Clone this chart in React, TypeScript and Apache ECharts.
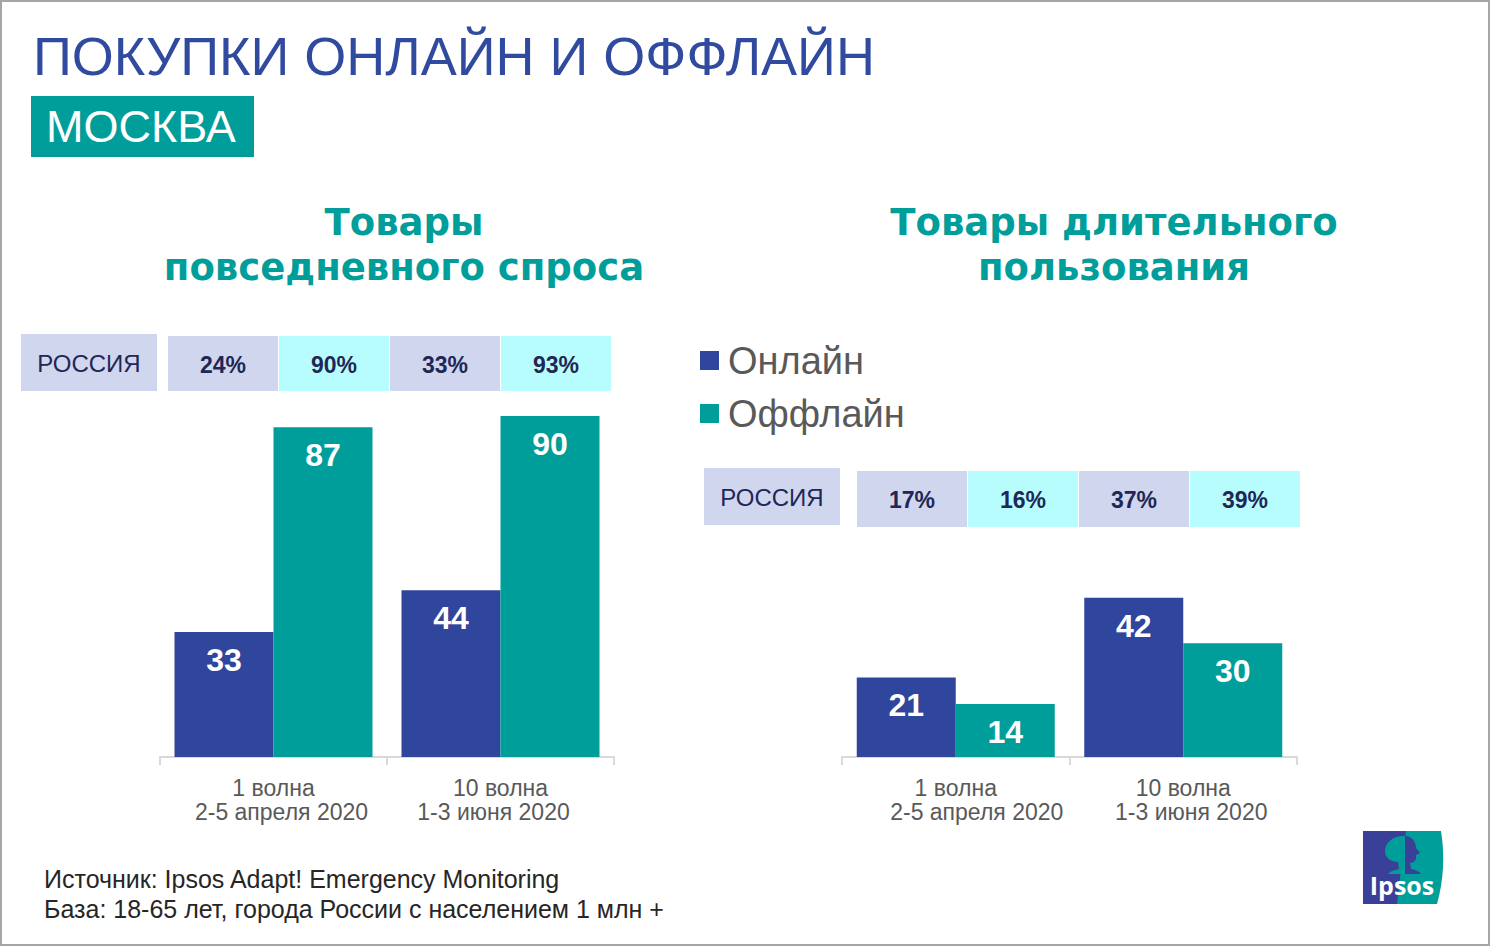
import React, { useEffect, useRef } from "react";
import * as echarts from "echarts";

const categories = ["1 волна\n2-5 апреля 2020", "10 волна\n1-3 июня 2020"];
const seriesNames = ["Онлайн", "Оффлайн"];
const dailyOnline = [33, 44];
const dailyOffline = [87, 90];
const durableOnline = [21, 42];
const durableOffline = [14, 30];
const russiaDaily = ["24%", "90%", "33%", "93%"];
const russiaDurable = ["17%", "16%", "37%", "39%"];

const BLUE = "#30459c";
const TEAL = "#009e9a";
const LAV = "#cfd6ee";
const CYAN = "#b8fdfd";
const NAVY = "#1f2756";
const FONT = '"Liberation Sans", Arial, sans-serif';

echarts.graphic.registerShape(
  "ipsosTeal",
  echarts.graphic.extendPath(
    "M1406 831 L1441 831 Q1447 868 1437 904 L1397 904 Q1401 867 1406 831 Z",
    {}
  )
);
echarts.graphic.registerShape(
  "ipsosFace",
  echarts.graphic.extendPath(
    "M1405 836 C1412 836 1416 842 1416 848 L1420 853 L1416 855 C1417 860 1414 863 1410 863 L1411 869 C1416 870 1420 872 1421 874 L1405 874 Z",
    {}
  )
);
echarts.graphic.registerShape(
  "ipsosTree",
  echarts.graphic.extendPath(
    "M1405 836 C1396 835 1385 841 1385 851 C1385 858 1391 862 1398 862 L1399 869 C1394 870 1389 872 1388 874 L1405 874 Z",
    {}
  )
);

function table(x0: number, boxX: number, y: number, h: number, boxY: number, values: string[]) {
  const els: any[] = [];
  els.push({
    type: "rect",
    shape: { x: boxX, y: boxY, width: 136, height: 57 },
    style: { fill: LAV },
  });
  els.push({
    type: "text",
    x: boxX + 68,
    y: boxY + 29,
    style: {
      text: "РОССИЯ",
      fill: NAVY,
      fontSize: 24,
      fontFamily: FONT,
      align: "center",
      verticalAlign: "middle",
    },
  });
  values.forEach((v, i) => {
    const x = x0 + i * 111;
    els.push({
      type: "rect",
      shape: { x, y, width: 110, height: h },
      style: { fill: i % 2 === 0 ? LAV : CYAN },
    });
    els.push({
      type: "text",
      x: x + 55,
      y: y + h / 2 + 1,
      style: {
        text: v,
        fill: NAVY,
        fontSize: 23,
        fontWeight: "bold",
        fontFamily: FONT,
        align: "center",
        verticalAlign: "middle",
      },
    });
  });
  return els;
}

// horizontal shift (px) of the second label line, per category
function makeLabel(shifts: number[]) {
  const rich: any = {
    a: { color: "#595959", fontSize: 23, lineHeight: 24, fontFamily: FONT },
  };
  shifts.forEach((s, i) => {
    rich["b" + i] = {
      color: "#595959",
      fontSize: 23,
      lineHeight: 24,
      fontFamily: FONT,
      padding: s >= 0 ? [0, 0, 0, 2 * s] : [0, -2 * s, 0, 0],
    };
  });
  return {
    interval: 0,
    hideOverlap: false,
    color: "#595959",
    fontSize: 23,
    lineHeight: 24,
    margin: 19,
    fontFamily: FONT,
    rich,
    formatter: (value: string, index: number) => {
      const [l1, l2] = value.split("\n");
      return "{a|" + l1 + "}\n{b" + index + "|" + l2 + "}";
    },
  };
}

export default function App() {
  const ref = useRef<HTMLDivElement>(null);
  useEffect(() => {
    document.body.style.margin = "0";
    document.body.style.overflow = "hidden";
    const chart = echarts.init(ref.current!, null, { renderer: "svg" });
    const barLabel = {
      show: true,
      position: "insideTop",
      distance: 12,
      color: "#ffffff",
      fontSize: 32,
      fontWeight: "bold",
      fontFamily: FONT,
    };
    const xAxisCommon = {
      type: "category",
      data: categories,
      axisLine: { lineStyle: { color: "#d9d9d9", width: 2 } },
      axisTick: { show: true, interval: 0, length: 8, lineStyle: { color: "#d9d9d9", width: 2 } },
    };
    const yAxisCommon = { type: "value", min: 0, max: 100, show: false };
    const barCommon = { type: "bar", barWidth: 99, barGap: "0%" };
    chart.setOption({
      animation: false,
      backgroundColor: "#ffffff",
      grid: [
        { left: 160, top: 378, width: 454, height: 379 },
        { left: 842, top: 378, width: 455, height: 379 },
      ],
      xAxis: [
        { ...xAxisCommon, gridIndex: 0, axisLabel: makeLabel([8, -7]) },
        { ...xAxisCommon, gridIndex: 1, axisLabel: makeLabel([21, 8]) },
      ],
      yAxis: [
        { ...yAxisCommon, gridIndex: 0 },
        { ...yAxisCommon, gridIndex: 1 },
      ],
      legend: {
        data: seriesNames,
        orient: "vertical",
        left: 695,
        top: 335,
        icon: "rect",
        itemWidth: 19,
        itemHeight: 19,
        itemGap: 12,
        selectedMode: false,
        textStyle: {
          color: "#595959",
          fontSize: 38,
          lineHeight: 41,
          fontFamily: FONT,
          padding: [0, 0, 0, 4],
        },
      },
      series: [
        { ...barCommon, name: seriesNames[0], xAxisIndex: 0, yAxisIndex: 0, data: dailyOnline, itemStyle: { color: BLUE }, label: barLabel },
        { ...barCommon, name: seriesNames[1], xAxisIndex: 0, yAxisIndex: 0, data: dailyOffline, itemStyle: { color: TEAL }, label: barLabel },
        { ...barCommon, name: seriesNames[0], xAxisIndex: 1, yAxisIndex: 1, data: durableOnline, itemStyle: { color: BLUE }, label: barLabel },
        { ...barCommon, name: seriesNames[1], xAxisIndex: 1, yAxisIndex: 1, data: durableOffline, itemStyle: { color: TEAL }, label: barLabel },
      ],
      graphic: [
        {
          type: "rect",
          shape: { x: 1, y: 1, width: 1488, height: 944 },
          style: { fill: "none", stroke: "#a6a6a6", lineWidth: 2 },
          silent: true,
        },
        {
          type: "text",
          x: 33,
          y: 56,
          style: {
            text: "ПОКУПКИ ОНЛАЙН И ОФФЛАЙН",
            fill: "#2f4a9f",
            fontSize: 54,
            fontFamily: FONT,
            align: "left",
            verticalAlign: "middle",
          },
        },
        {
          type: "rect",
          shape: { x: 31, y: 96, width: 223, height: 61 },
          style: { fill: TEAL },
        },
        {
          type: "text",
          x: 46,
          y: 126,
          style: {
            text: "МОСКВА",
            fill: "#ffffff",
            fontSize: 45,
            fontFamily: FONT,
            align: "left",
            verticalAlign: "middle",
          },
        },
        {
          type: "text",
          x: 404,
          y: 245,
          style: {
            text: "Товары\nповседневного спроса",
            fill: TEAL,
            fontSize: 37,
            fontWeight: "bold",
            fontFamily: '"DejaVu Sans", sans-serif',
            lineHeight: 45,
            align: "center",
            verticalAlign: "middle",
          },
        },
        {
          type: "text",
          x: 1114,
          y: 245,
          style: {
            text: "Товары длительного\nпользования",
            fill: TEAL,
            fontSize: 37,
            fontWeight: "bold",
            fontFamily: '"DejaVu Sans", sans-serif',
            lineHeight: 45,
            align: "center",
            verticalAlign: "middle",
          },
        },
        ...table(168, 21, 336, 55, 334, russiaDaily),
        ...table(857, 704, 471, 56, 468, russiaDurable),
        {
          type: "text",
          x: 44,
          y: 879,
          style: {
            text: "Источник: Ipsos Adapt! Emergency Monitoring",
            fill: "#262626",
            fontSize: 25,
            fontFamily: FONT,
            align: "left",
            verticalAlign: "middle",
          },
        },
        {
          type: "text",
          x: 44,
          y: 909,
          style: {
            text: "База: 18-65 лет, города России с населением 1 млн +",
            fill: "#262626",
            fontSize: 25,
            fontFamily: FONT,
            align: "left",
            verticalAlign: "middle",
          },
        },
        {
          type: "rect",
          shape: { x: 1363, y: 831, width: 43, height: 73 },
          style: { fill: "#3a3f97" },
        },
        { type: "ipsosTeal", x: 0, y: 0, style: { fill: TEAL } },
        { type: "ipsosTree", x: 0, y: 0, style: { fill: TEAL } },
        { type: "ipsosFace", x: 0, y: 0, style: { fill: "#3a3f97" } },
        {
          type: "text",
          x: 1402,
          y: 885,
          style: {
            text: "Ipsos",
            fill: "#ffffff",
            fontSize: 25,
            fontWeight: "bold",
            fontFamily: '"Open Sans", sans-serif',
            align: "center",
            verticalAlign: "middle",
          },
        },
      ],
    });
    return () => chart.dispose();
  }, []);
  return <div ref={ref} style={{ width: 1490, height: 946 }} />;
}
